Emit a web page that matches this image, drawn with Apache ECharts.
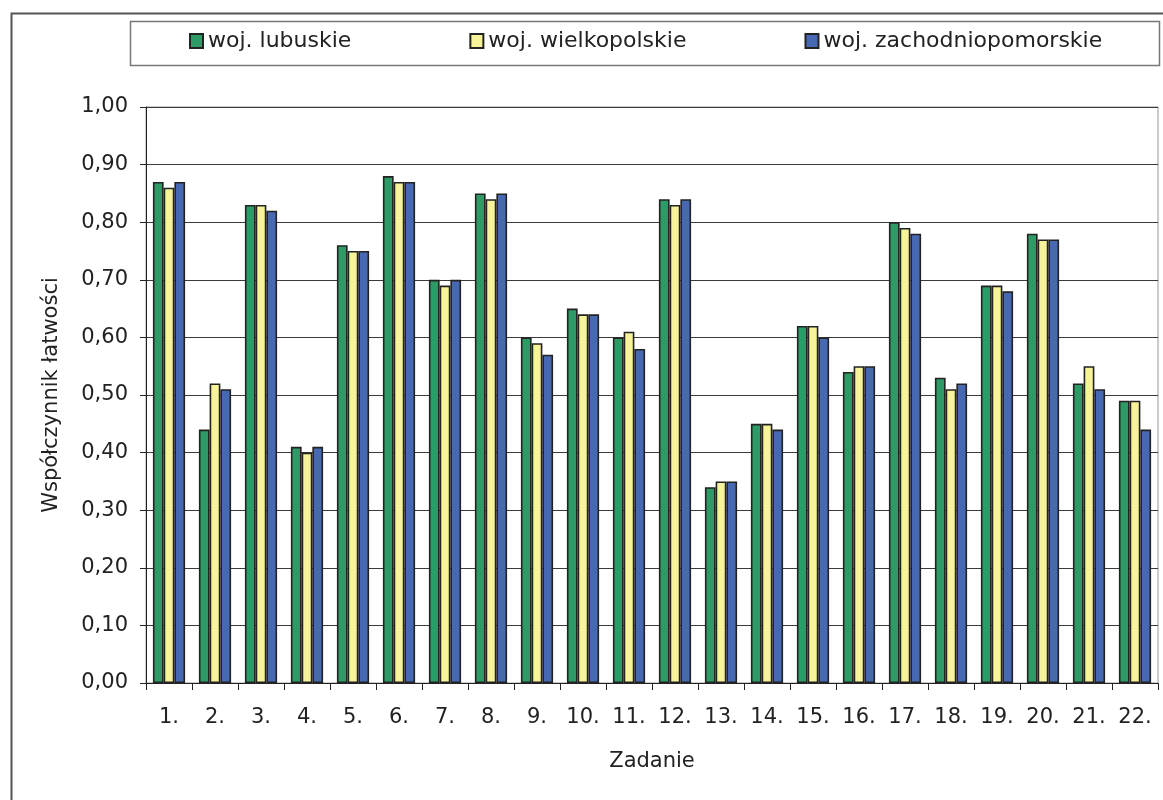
<!DOCTYPE html>
<html>
<head>
<meta charset="utf-8">
<script src="https://cdn.jsdelivr.net/npm/echarts@6/dist/echarts.min.js"></script>
<style>
  html, body { margin: 0; padding: 0; background: #fff; }
  #chart { width: 1163px; height: 800px; }
</style>
</head>
<body>
<div id="chart"></div>
<script>
// zadania 1-22
var categories = ['1.', '2.', '3.', '4.', '5.', '6.', '7.', '8.', '9.', '10.', '11.',
  '12.', '13.', '14.', '15.', '16.', '17.', '18.', '19.', '20.', '21.', '22.']

var lubuskie = [0.87, 0.44, 0.83, 0.41, 0.76, 0.88, 0.70, 0.85, 0.60, 0.65, 0.60,
  0.84, 0.34, 0.45, 0.62, 0.54, 0.80, 0.53, 0.69, 0.78, 0.52, 0.49]
var wielkopolskie = [0.86, 0.52, 0.83, 0.40, 0.75, 0.87, 0.69, 0.84, 0.59, 0.64, 0.61,
  0.83, 0.35, 0.45, 0.62, 0.55, 0.79, 0.51, 0.69, 0.77, 0.55, 0.49]
var zachodniopomorskie = [0.87, 0.51, 0.82, 0.41, 0.75, 0.87, 0.70, 0.85, 0.57, 0.64, 0.58,
  0.84, 0.35, 0.44, 0.60, 0.55, 0.78, 0.52, 0.68, 0.77, 0.51, 0.44]

var seriesNames = ['woj. lubuskie', 'woj. wielkopolskie', 'woj. zachodniopomorskie']
var seriesColors = ['#2e9a66', '#f7f39a', '#4768b3']

var FONT = 'DejaVu Sans'

var chart = echarts.init(document.getElementById('chart'))

function makeBar(name, data, color) {
  return {
    name: name,
    type: 'bar',
    data: data,
    barGap: '0%',
    barCategoryGap: '30%',
    itemStyle: {
      color: color,
      borderColor: '#222',
      borderWidth: 1.6
    }
  }
}

chart.setOption({
  animation: false,
  backgroundColor: '#fff',
  textStyle: { fontFamily: FONT, color: '#222' },
  graphic: [
    // ramka wykresu
    {
      type: 'rect',
      left: 9, top: 11,
      shape: { width: 1200, height: 900 },
      style: { fill: 'none', stroke: '#555', lineWidth: 2 },
      silent: true
    },
    // ramka legendy
    {
      type: 'rect',
      left: 128, top: 19,
      shape: { width: 1029, height: 44 },
      style: { fill: 'none', stroke: '#777', lineWidth: 1.5 },
      silent: true
    }
  ],
  legend: {
    data: seriesNames,
    icon: 'rect',
    left: 189,
    top: 30,
    padding: 0,
    itemGap: 118,
    itemWidth: 13,
    itemHeight: 14,
    textStyle: { fontFamily: FONT, fontSize: 22, color: '#222' }
  },
  grid: {
    left: 146,
    right: 5,
    top: 107,
    bottom: 117,
    show: true,
    borderColor: '#999',
    borderWidth: 1
  },
  xAxis: {
    type: 'category',
    data: categories,
    name: 'Zadanie',
    nameLocation: 'middle',
    nameGap: 68,
    nameTextStyle: { fontFamily: FONT, fontSize: 21, color: '#222' },
    axisLine: { lineStyle: { color: '#222', width: 1 } },
    axisTick: { show: true, length: 7, alignWithLabel: false, lineStyle: { color: '#222' } },
    axisLabel: { margin: 24, fontFamily: FONT, fontSize: 21, color: '#222', interval: 0 },
    splitLine: { show: false }
  },
  yAxis: {
    type: 'value',
    min: 0,
    max: 1,
    interval: 0.1,
    name: 'Współczynnik łatwości',
    nameLocation: 'middle',
    nameRotate: 90,
    nameGap: 84,
    nameTextStyle: { fontFamily: FONT, fontSize: 21, color: '#222' },
    axisLine: { show: true, lineStyle: { color: '#222', width: 1 } },
    axisTick: { show: true, length: 6, lineStyle: { color: '#222' } },
    axisLabel: {
      margin: 18,
      fontFamily: FONT,
      fontSize: 21,
      color: '#222',
      formatter: function (v) { return v.toFixed(2).replace('.', ',') }
    },
    splitLine: { show: true, lineStyle: { color: '#3a3a3a', width: 1 } }
  },
  series: [
    makeBar(seriesNames[0], lubuskie, seriesColors[0]),
    makeBar(seriesNames[1], wielkopolskie, seriesColors[1]),
    makeBar(seriesNames[2], zachodniopomorskie, seriesColors[2])
  ]
})
</script>
</body>
</html>
